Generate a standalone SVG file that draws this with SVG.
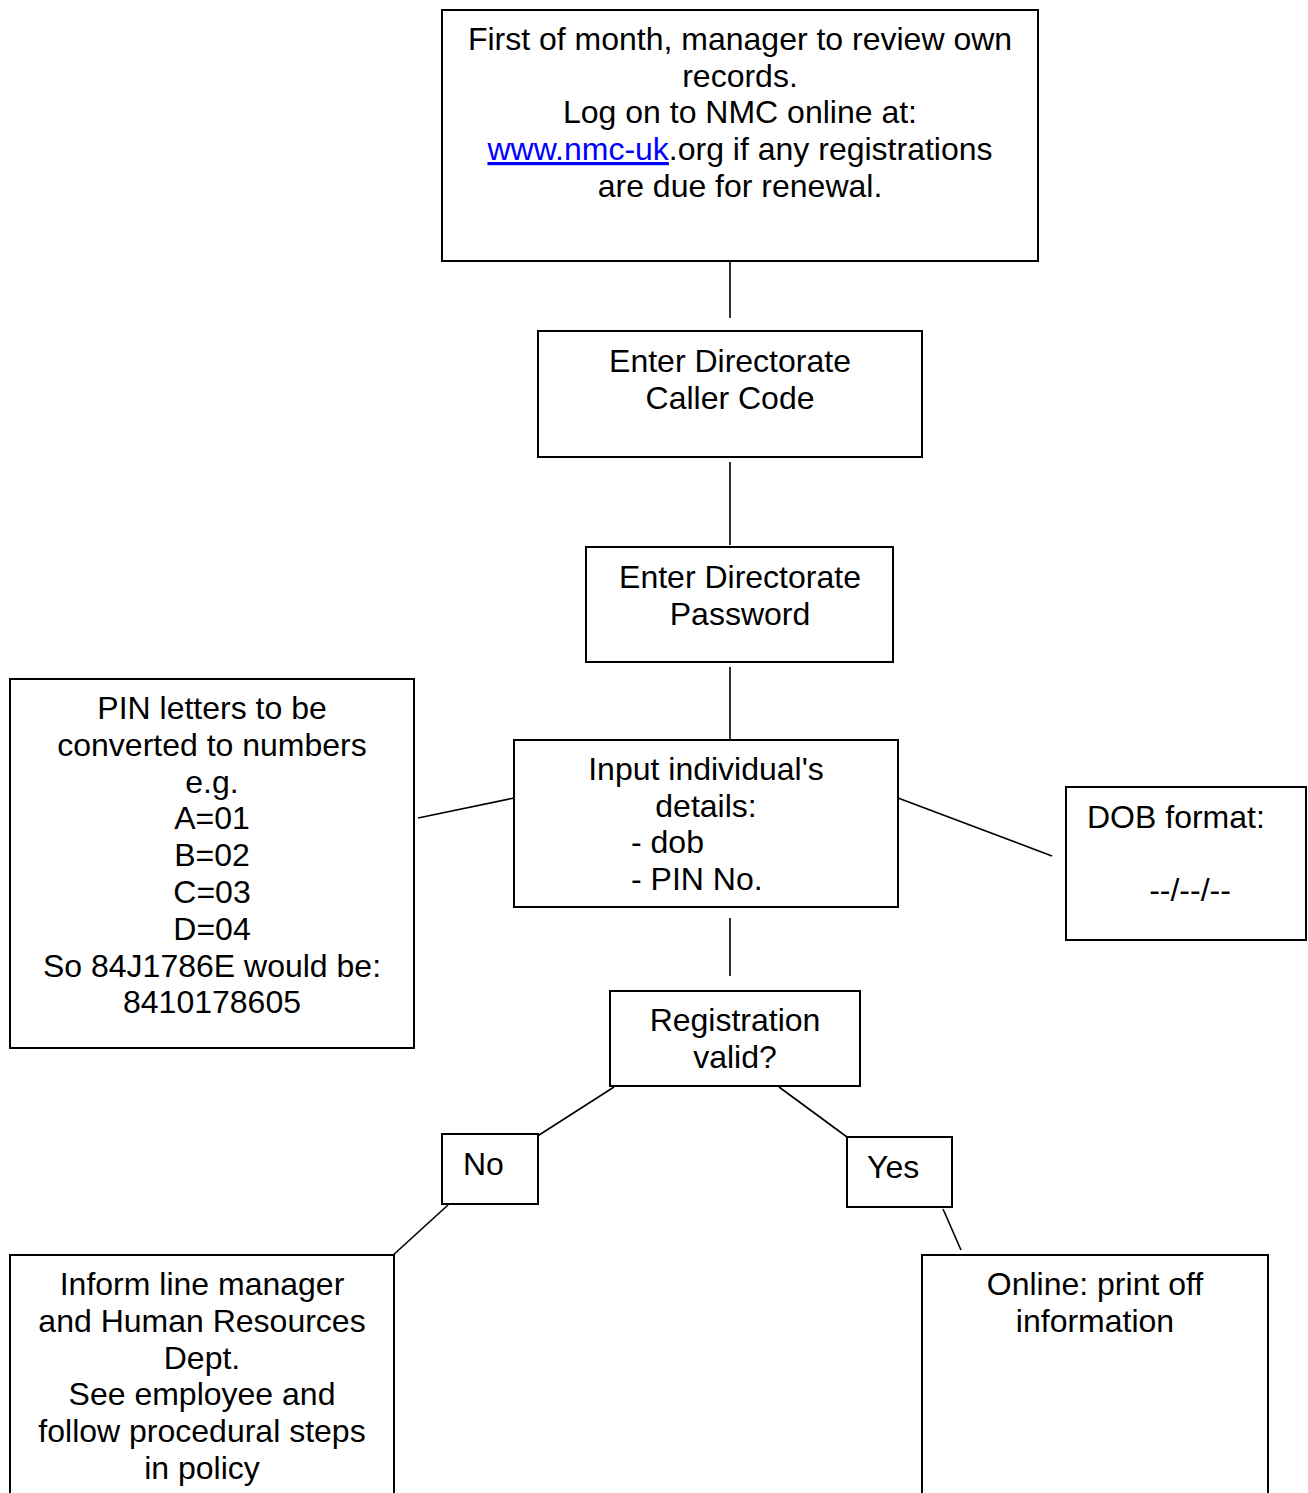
<svg xmlns="http://www.w3.org/2000/svg" width="1308" height="1493" viewBox="0 0 1308 1493">
<style>
.box{fill:#fff;stroke:#000;stroke-width:2}
.t{font-family:"Liberation Sans",Arial,sans-serif;font-size:32px;fill:#000}
.c{text-anchor:middle}
.ln{stroke:#000;stroke-width:1.6;fill:none}
.link{fill:#0000ff;text-decoration:underline}
</style>
<rect width="1308" height="1493" fill="#fff"/>
<g id="connectors">
<line class="ln" x1="730" y1="261" x2="730" y2="318"/>
<line class="ln" x1="730" y1="462" x2="730" y2="545"/>
<line class="ln" x1="730" y1="667" x2="730" y2="745"/>
<line class="ln" x1="730" y1="918" x2="730" y2="976"/>
<line class="ln" x1="418" y1="818" x2="514" y2="798"/>
<line class="ln" x1="898" y1="798" x2="1052" y2="856"/>
<line class="ln" x1="614" y1="1087" x2="536" y2="1137"/>
<line class="ln" x1="779" y1="1087" x2="847" y2="1137"/>
<line class="ln" x1="448" y1="1205" x2="391" y2="1257"/>
<line class="ln" x1="943" y1="1209" x2="961" y2="1250"/>
</g>
<g id="n1">
<rect class="box" x="442" y="10" width="596" height="251"/>
<text class="t c" x="740" y="50">First of month, manager to review own</text>
<text class="t c" x="740" y="87">records.</text>
<text class="t c" x="740" y="123">Log on to NMC online at:</text>
<text class="t c" x="740" y="160"><tspan class="link">www.nmc-uk</tspan>.org if any registrations</text>
<text class="t c" x="740" y="197">are due for renewal.</text>
</g>
<g id="n2">
<rect class="box" x="538" y="331" width="384" height="126"/>
<text class="t c" x="730" y="372">Enter Directorate</text>
<text class="t c" x="730" y="409">Caller Code</text>
</g>
<g id="n3">
<rect class="box" x="586" y="547" width="307" height="115"/>
<text class="t c" x="740" y="588">Enter Directorate</text>
<text class="t c" x="740" y="625">Password</text>
</g>
<g id="n4">
<rect class="box" x="514" y="740" width="384" height="167"/>
<text class="t c" x="706" y="780">Input individual's</text>
<text class="t c" x="706" y="817">details:</text>
<text class="t" x="631" y="853">- dob</text>
<text class="t" x="631" y="890">- PIN No.</text>
</g>
<g id="n5">
<rect class="box" x="610" y="991" width="250" height="95"/>
<text class="t c" x="735" y="1031">Registration</text>
<text class="t c" x="735" y="1068">valid?</text>
</g>
<g id="pin">
<rect class="box" x="10" y="679" width="404" height="369"/>
<text class="t c" x="212" y="719">PIN letters to be</text>
<text class="t c" x="212" y="756">converted to numbers</text>
<text class="t c" x="212" y="793">e.g.</text>
<text class="t c" x="212" y="829">A=01</text>
<text class="t c" x="212" y="866">B=02</text>
<text class="t c" x="212" y="903">C=03</text>
<text class="t c" x="212" y="940">D=04</text>
<text class="t c" x="212" y="977">So 84J1786E would be:</text>
<text class="t c" x="212" y="1013">8410178605</text>
</g>
<g id="dob">
<rect class="box" x="1066" y="787" width="240" height="153"/>
<text class="t" x="1087" y="828">DOB format:</text>
<text class="t c" x="1190" y="901">--/--/--</text>
</g>
<g id="no">
<rect class="box" x="442" y="1134" width="96" height="70"/>
<text class="t" x="463" y="1175">No</text>
</g>
<g id="yes">
<rect class="box" x="847" y="1137" width="105" height="70"/>
<text class="t" x="867" y="1178">Yes</text>
</g>
<g id="inform">
<rect class="box" x="10" y="1255" width="384" height="250"/>
<text class="t c" x="202" y="1295">Inform line manager</text>
<text class="t c" x="202" y="1332">and Human Resources</text>
<text class="t c" x="202" y="1369">Dept.</text>
<text class="t c" x="202" y="1405">See employee and</text>
<text class="t c" x="202" y="1442">follow procedural steps</text>
<text class="t c" x="202" y="1479">in policy</text>
</g>
<g id="online">
<rect class="box" x="922" y="1255" width="346" height="250"/>
<text class="t c" x="1095" y="1295">Online: print off</text>
<text class="t c" x="1095" y="1332">information</text>
</g>
</svg>
